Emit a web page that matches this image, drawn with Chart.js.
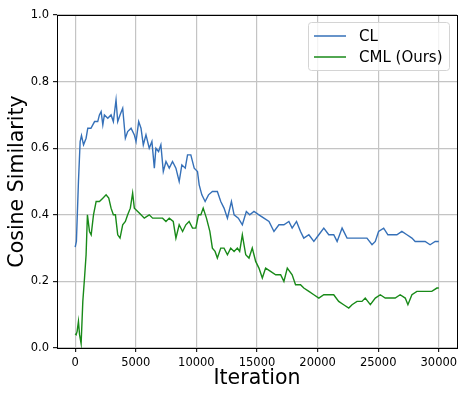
<!DOCTYPE html>
<html>
<head>
<meta charset="utf-8">
<script src="https://cdn.jsdelivr.net/npm/chart.js@4"></script>
<style>
  html, body { margin: 0; padding: 0; background: #fff; }
  #wrap { width: 472px; height: 398px; }
</style>
</head>
<body>
<div id="wrap"><canvas id="myChart" width="472" height="398"></canvas></div>
<script>
// CL (blue) - iterations and cosine similarity
const clIter = [0, 100, 270, 410, 520, 690, 900, 1040, 1300, 1600, 1860, 2000, 2140, 2280, 2410, 2690, 2960, 3150, 3370, 3510, 3700, 3920, 4140, 4330, 4610, 4880, 5020, 5240, 5430, 5620, 5840, 6110, 6330, 6530, 6660, 6880, 7070, 7270, 7490, 7760, 8030, 8310, 8580, 8800, 9080, 9270, 9540, 9820, 10090, 10230, 10450, 10720, 11000, 11320, 11730, 12010, 12280, 12560, 12890, 13110, 13460, 13790, 14120, 14400, 14750, 15160, 15570, 15990, 16400, 16810, 17220, 17630, 17900, 18260, 18590, 18860, 19280, 19690, 20100, 20510, 20920, 21330, 21610, 22020, 22430, 22840, 23250, 23660, 24070, 24490, 24760, 25030, 25450, 25800, 26130, 26540, 26950, 27370, 27780, 28050, 28460, 28870, 29280, 29700, 30000];
const clSim = [0.303, 0.32, 0.50, 0.62, 0.638, 0.61, 0.63, 0.66, 0.66, 0.68, 0.68, 0.70, 0.71, 0.67, 0.70, 0.69, 0.70, 0.68, 0.745, 0.68, 0.70, 0.72, 0.63, 0.65, 0.66, 0.64, 0.62, 0.68, 0.66, 0.61, 0.64, 0.60, 0.62, 0.54, 0.60, 0.59, 0.61, 0.53, 0.56, 0.54, 0.56, 0.54, 0.50, 0.55, 0.54, 0.58, 0.58, 0.54, 0.53, 0.49, 0.46, 0.44, 0.46, 0.47, 0.47, 0.44, 0.42, 0.39, 0.44, 0.40, 0.39, 0.37, 0.41, 0.40, 0.41, 0.40, 0.39, 0.38, 0.35, 0.37, 0.37, 0.38, 0.36, 0.38, 0.35, 0.33, 0.34, 0.32, 0.34, 0.36, 0.34, 0.34, 0.32, 0.36, 0.33, 0.33, 0.33, 0.33, 0.33, 0.31, 0.32, 0.35, 0.36, 0.34, 0.34, 0.34, 0.35, 0.34, 0.33, 0.32, 0.32, 0.32, 0.31, 0.32, 0.32];

// CML (Ours) (green)
const cmlIter = [0, 80, 160, 270, 360, 490, 630, 770, 900, 1010, 1180, 1320, 1510, 1730, 2000, 2280, 2550, 2770, 2960, 3150, 3320, 3510, 3700, 3920, 4140, 4330, 4550, 4740, 4880, 5160, 5430, 5700, 6110, 6390, 6800, 7210, 7490, 7760, 8090, 8310, 8580, 8860, 9130, 9400, 9680, 9950, 10170, 10370, 10560, 10830, 11110, 11320, 11540, 11730, 12010, 12280, 12560, 12830, 13110, 13380, 13570, 13790, 14070, 14340, 14610, 14890, 15160, 15440, 15710, 16120, 16540, 16950, 17220, 17500, 17900, 18180, 18590, 18860, 19280, 19690, 20100, 20510, 20920, 21330, 21740, 22150, 22570, 22840, 23250, 23660, 23930, 24350, 24760, 25170, 25580, 25990, 26400, 26810, 27230, 27450, 27780, 28190, 28600, 29010, 29420, 29840, 30000];
const cmlSim = [0.043, 0.04, 0.05, 0.08, 0.04, 0.013, 0.14, 0.21, 0.28, 0.40, 0.35, 0.34, 0.40, 0.44, 0.44, 0.45, 0.46, 0.45, 0.42, 0.40, 0.40, 0.34, 0.33, 0.37, 0.38, 0.40, 0.42, 0.465, 0.42, 0.41, 0.40, 0.39, 0.40, 0.39, 0.39, 0.39, 0.38, 0.39, 0.38, 0.33, 0.37, 0.35, 0.37, 0.38, 0.36, 0.36, 0.40, 0.40, 0.42, 0.39, 0.35, 0.30, 0.29, 0.27, 0.30, 0.30, 0.28, 0.30, 0.29, 0.30, 0.29, 0.34, 0.28, 0.27, 0.30, 0.26, 0.24, 0.21, 0.24, 0.23, 0.22, 0.22, 0.20, 0.24, 0.22, 0.19, 0.19, 0.18, 0.17, 0.16, 0.15, 0.16, 0.16, 0.16, 0.14, 0.13, 0.12, 0.13, 0.14, 0.14, 0.15, 0.13, 0.15, 0.16, 0.15, 0.15, 0.15, 0.16, 0.15, 0.13, 0.16, 0.17, 0.17, 0.17, 0.17, 0.18, 0.18];

const xTicks = [0, 5000, 10000, 15000, 20000, 25000, 30000];
const yTicks = [0.0, 0.2, 0.4, 0.6, 0.8, 1.0];
const seriesNames = ['CL', 'CML (Ours)'];
const seriesColors = ['#3570b8', '#198a19'];

const FONT = 'DejaVu Sans';

function toPoints(xs, ys) {
    return xs.map((x, i) => ({ x: x, y: ys[i] }));
}

// рамка вокруг области графика (как spines в matplotlib)
const framePlugin = {
    id: 'frame',
    afterDraw(chart) {
        const a = chart.chartArea;
        const c = chart.ctx;
        c.save();
        c.strokeStyle = '#000';
        c.lineWidth = 1;
        c.strokeRect(Math.round(a.left) + 0.5, Math.round(a.top) + 0.5,
            Math.round(a.right - a.left), Math.round(a.bottom - a.top));
        c.restore();
    }
};

// легенда внутри области графика, справа сверху
const legendPlugin = {
    id: 'innerLegend',
    afterDraw(chart) {
        const a = chart.chartArea;
        const c = chart.ctx;
        const bx = a.right - 149, by = a.top + 7, bw = 141, bh = 48;
        c.save();
        c.fillStyle = 'rgba(255,255,255,0.8)';
        c.strokeStyle = '#d4d4d4';
        c.lineWidth = 1;
        c.beginPath();
        c.roundRect(bx + 0.5, by + 0.5, bw, bh, 3);
        c.fill();
        c.stroke();
        c.font = '15px "' + FONT + '"';
        c.textBaseline = 'middle';
        chart.data.datasets.forEach((ds, i) => {
            const y = by + 14 + i * 21;
            c.strokeStyle = ds.borderColor;
            c.lineWidth = 1.5;
            c.beginPath();
            c.moveTo(bx + 6, y);
            c.lineTo(bx + 38, y);
            c.stroke();
            c.fillStyle = '#000';
            c.fillText(ds.label, bx + 51, y + 1);
        });
        c.restore();
    }
};

const ctx = document.getElementById('myChart').getContext('2d');
const myChart = new Chart(ctx, {
    type: 'line',
    data: {
        datasets: [{
            label: seriesNames[0],
            data: toPoints(clIter, clSim),
            borderColor: seriesColors[0],
            borderWidth: 1.4,
            pointRadius: 0,
            tension: 0,
            fill: false
        }, {
            label: seriesNames[1],
            data: toPoints(cmlIter, cmlSim),
            borderColor: seriesColors[1],
            borderWidth: 1.4,
            pointRadius: 0,
            tension: 0,
            fill: false
        }]
    },
    options: {
        responsive: false,
        animation: false,
        layout: { padding: { left: 0, right: 15, top: 15, bottom: 0 } },
        plugins: {
            legend: { display: false },
            tooltip: { enabled: false }
        },
        scales: {
            x: {
                type: 'linear',
                min: -1500,
                max: 31500,
                afterBuildTicks: axis => { axis.ticks = xTicks.map(v => ({ value: v })); },
                afterFit: axis => { axis.height = 50; },
                grid: { color: '#c4c4c4', lineWidth: 1.2, tickColor: '#222', tickLength: 4 },
                border: { display: false },
                ticks: {
                    color: '#000',
                    font: { family: FONT, size: 11.5 },
                    padding: 4,
                    maxRotation: 0,
                    callback: v => String(v)
                },
                title: {
                    display: true,
                    text: 'Iteration',
                    color: '#000',
                    font: { family: FONT, size: 20.5 },
                    padding: { top: 0, bottom: 7 }
                }
            },
            y: {
                min: 0,
                max: 1,
                afterBuildTicks: axis => { axis.ticks = yTicks.map(v => ({ value: v })); },
                afterFit: axis => { axis.width = 57; },
                grid: { color: '#c4c4c4', lineWidth: 1.2, tickColor: '#222', tickLength: 4 },
                border: { display: false },
                ticks: {
                    color: '#000',
                    font: { family: FONT, size: 11.5 },
                    padding: 4,
                    callback: v => v.toFixed(1)
                },
                title: {
                    display: true,
                    text: 'Cosine Similarity',
                    color: '#000',
                    font: { family: FONT, size: 20.5 },
                    padding: { top: 5, bottom: 0 }
                }
            }
        }
    },
    plugins: [framePlugin, legendPlugin]
});
</script>
</body>
</html>
